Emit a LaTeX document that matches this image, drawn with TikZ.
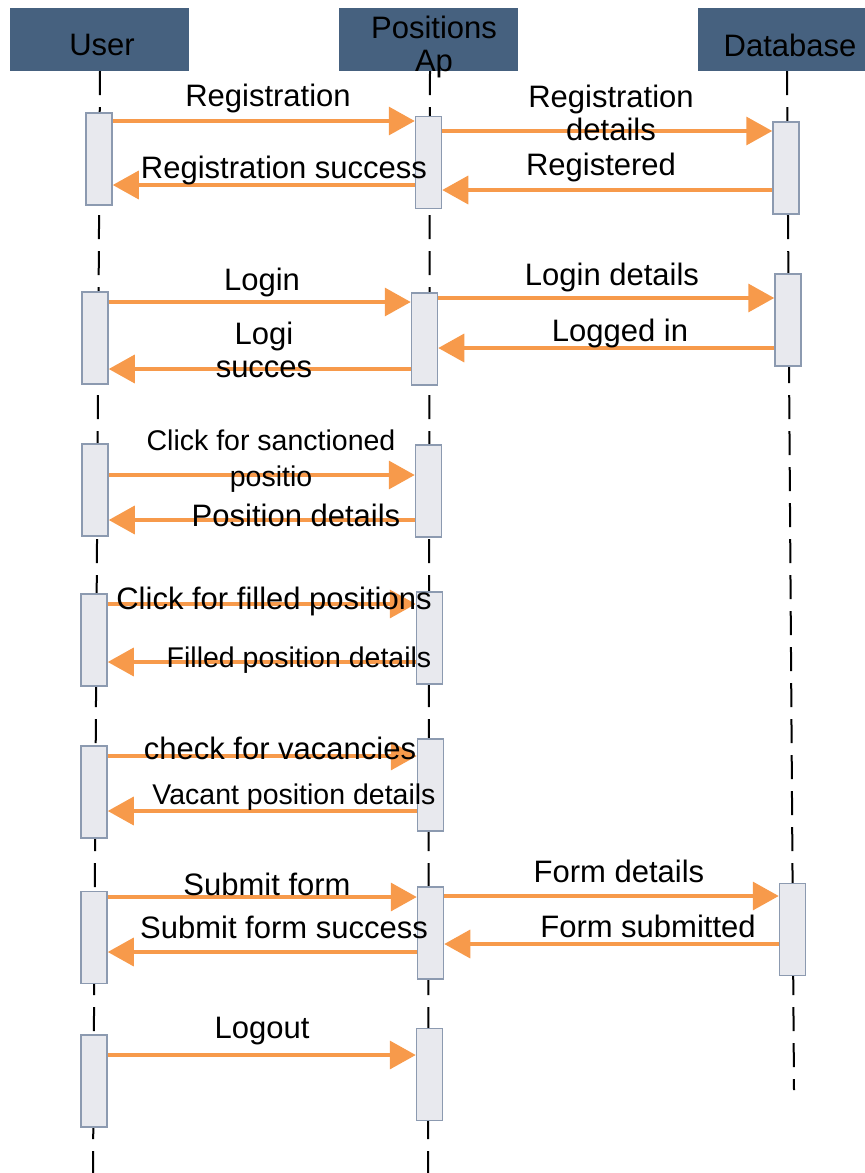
\documentclass[tikz,border=0pt]{standalone}
\usepackage{fontspec}
\setmainfont{Liberation Sans}
\usetikzlibrary{arrows.meta, positioning}
\definecolor{headblue}{HTML}{46617F}
\definecolor{barfill}{HTML}{E8E9EE}
\definecolor{barline}{HTML}{8C9AB0}
\definecolor{msgorange}{HTML}{F79A4B}

\begin{document}
\begin{tikzpicture}[x=1pt, y=-1pt, >={Triangle[length=26pt,width=28pt]},
  head/.style={fill=headblue, draw=none, minimum width=179pt, minimum height=63pt, inner sep=0pt},
  actbar/.style={fill=barfill, draw=barline, line width=1.5pt, minimum width=26pt, minimum height=92pt, inner sep=0pt},
  lifeline/.style={line width=2pt, dash pattern=on 24pt off 12pt},
  msg/.style={->, draw=msgorange, line width=3.5pt, color=msgorange},
  lbl/.style={font=\fontsize{31}{33}\selectfont, align=center, inner sep=0pt},
  slbl/.style={font=\fontsize{28.5}{36}\selectfont, align=center, inner sep=0pt}]
\useasboundingbox (0,0) rectangle (865,1173);
% heads
\node[head] (user) at (99.5,39.5) {};
\node[head] (app) at (428,39.5) {};
\node[head] (db) at (787,39.5) {};
\node[lbl] (usertxt) at (102,45) {User};
\node[lbl] (apptxt) at (434,47) {Positions\\Ap};
\node[lbl] (dbtxt) at (790,45) {Database};
% lifelines
\coordinate (uend) at (93,1173);
\coordinate (pend) at (428,1173);
\coordinate (dend) at (794,1090);
\draw[lifeline] (user.south -| 100,0) -- (uend);
\draw[lifeline] (app.south -| 430,0) -- (pend);
\draw[lifeline] (db.south -| 787,0) -- (dend);
% activation bars
\node[actbar] (u1) at (99,159) {};
\node[actbar] (u2) at (95,338) {};
\node[actbar] (u3) at (95,490) {};
\node[actbar] (u4) at (94,640) {};
\node[actbar] (u5) at (94,792) {};
\node[actbar] (u6) at (94,937.5) {};
\node[actbar] (u7) at (94,1081) {};
\node[actbar] (p1) at (428.5,162.5) {};
\node[actbar] (p2) at (424.5,339) {};
\node[actbar] (p3) at (428.5,491) {};
\node[actbar] (p4) at (429.5,638) {};
\node[actbar] (p5) at (430.5,785) {};
\node[actbar] (p6) at (430.5,933) {};
\node[actbar] (p7) at (429.5,1074.5) {};
\node[actbar] (d1) at (786,168) {};
\node[actbar] (d2) at (788,320) {};
\node[actbar] (d3) at (792.5,929.5) {};
% messages
\draw[msg] (u1.east |- 0,121) -- (p1.west |- 0,121);
\draw[msg] (p1.east |- 0,131) -- (d1.west |- 0,131);
\draw[msg] (d1.west |- 0,190) -- (p1.east |- 0,190);
\draw[msg] (p1.west |- 0,185) -- (u1.east |- 0,185);
\draw[msg] (u2.east |- 0,302) -- (p2.west |- 0,302);
\draw[msg] (p2.east |- 0,298) -- (d2.west |- 0,298);
\draw[msg] (d2.west |- 0,348) -- (p2.east |- 0,348);
\draw[msg] (p2.west |- 0,369) -- (u2.east |- 0,369);
\draw[msg] (u3.east |- 0,475) -- (p3.west |- 0,475);
\draw[msg] (p3.west |- 0,520) -- (u3.east |- 0,520);
\draw[msg] (u4.east |- 0,604) -- (p4.west |- 0,604);
\draw[msg] (p4.west |- 0,662) -- (u4.east |- 0,662);
\draw[msg] (u5.east |- 0,756) -- (p5.west |- 0,756);
\draw[msg] (p5.west |- 0,811) -- (u5.east |- 0,811);
\draw[msg] (u6.east |- 0,897) -- (p6.west |- 0,897);
\draw[msg] (p6.east |- 0,896) -- (d3.west |- 0,896);
\draw[msg] (d3.west |- 0,944) -- (p6.east |- 0,944);
\draw[msg] (p6.west |- 0,952) -- (u6.east |- 0,952);
\draw[msg] (u7.east |- 0,1055) -- (p7.west |- 0,1055);
% labels
\node[lbl] (m1) at (268,98) {Registration};
\node[lbl] (m2) at (611,113) {Registration\\details};
\node[lbl] (m3) at (601,167) {Registered};
\node[lbl] (m4) at (284,170) {Registration success};
\node[lbl] (m5) at (262,282) {Login};
\node[lbl] (m6) at (612,277) {Login details};
\node[lbl] (m7) at (620,333) {Logged in};
\node[lbl] (m8) at (264,350) {Logi\\succes};
\node[slbl] (m9) at (271,461) {Click for sanctioned\\positio};
\node[lbl] (m10) at (296,515) {Position details};
\node[lbl] (m11) at (274,601) {Click for filled positions};
\node[slbl] (m12) at (299,660) {Filled position details};
\node[lbl] (m13) at (280,748) {check for vacancies};
\node[slbl] (m14) at (294,797) {Vacant position details};
\node[lbl] (m15) at (267,884) {Submit form};
\node[lbl] (m16) at (619,871) {Form details};
\node[lbl] (m17) at (648,926) {Form submitted};
\node[lbl] (m18) at (284,927) {Submit form success};
\node[lbl] (m19) at (262,1031) {Logout};
\end{tikzpicture}
\end{document}
